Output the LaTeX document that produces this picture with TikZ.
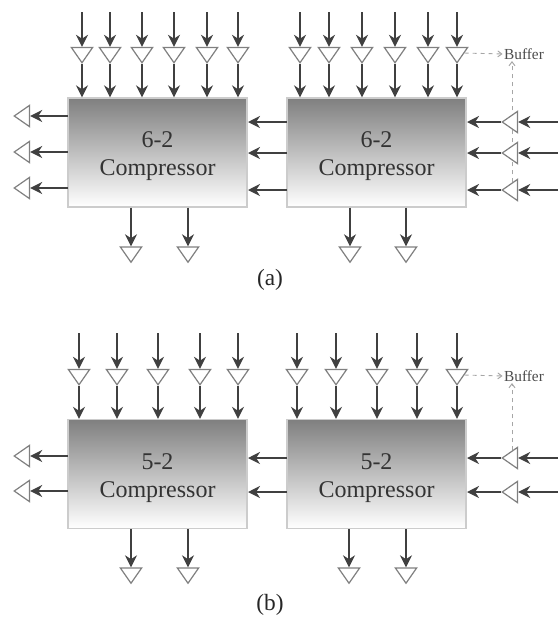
\documentclass[tikz,border=0pt]{standalone}
\usepackage{fontspec}
\setmainfont{Liberation Serif}
\usetikzlibrary{arrows.meta,shapes.geometric,calc,backgrounds}
\definecolor{ink}{HTML}{404040}
\newcommand{\complabel}[1]{\rule{0pt}{18pt}#1\\Compressor}
\tikzset{
  comp/.style={draw=black!20,line width=1.2pt,top color=black!50,bottom color=white,
    minimum width=134pt,minimum height=81.5pt,inner sep=0pt,align=center,
    font=\fontsize{18}{21}\selectfont,text=black!80},
  tri/.style={isosceles triangle,isosceles triangle stretches,draw=black!50,line width=.9pt,fill=white,
    minimum width=16pt,minimum height=11.5pt,inner sep=0pt},
  tridown/.style={tri,shape border rotate=-90},
  trileft/.style={tri,shape border rotate=180},
  sig/.style={draw=ink,line width=1.8pt,-{Stealth[length=9pt,width=9pt]}},
  dashline/.style={draw=black!35,line width=.7pt,dashed,-{Straight Barb[length=3pt,width=4.5pt]}},
  bufl/.style={font=\fontsize{11.5}{13}\selectfont,text=black!70,inner sep=1pt},
  figcap/.style={font=\fontsize{17.5}{20}\selectfont,text=black!85,inner sep=0pt}
}
\begin{document}
\begin{tikzpicture}[x=0.75pt,y=-0.75pt]
\useasboundingbox (0,0) rectangle (558,619);
% ---- (a)
\node[comp] (A1) at (157.5,152.5) {\complabel{6-2}};
\node[comp] (A2) at (376.5,152.5) {\complabel{6-2}};
\foreach \x [count=\i] in {82,110,142,174,207,238,300,329,362,395,428,457}{
  \coordinate (at\i) at (\x,12);
  \node[tridown] (atr\i) at (\x,53) {};
  \draw[sig] (at\i) -- (atr\i.north);
}
\foreach \i in {1,...,6}{\draw[sig] (atr\i.apex) -- (atr\i.apex |- A1.north);}
\foreach \i in {7,...,12}{\draw[sig] (atr\i.apex) -- (atr\i.apex |- A2.north);}
\foreach \y [count=\i] in {116,152,188}{
  \node[trileft] (al\i) at (24,\y) {};
  \coordinate (als\i) at (68,\y);
  \draw[sig] (als\i) -- (al\i.east);
}
\foreach \y [count=\i] in {122,153,190}{
  \coordinate (am\i) at (287,\y);
  \coordinate (ame\i) at (248,\y);
  \draw[sig] (am\i) -- (ame\i);
  \node[trileft] (ar\i) at (512,\y) {};
  \coordinate (ai\i) at (558,\y);
  \coordinate (ao\i) at (467,\y);
  \draw[sig] (ai\i) -- (ar\i.east);
  \draw[sig] (ar\i.apex) -- (ao\i);
}
\foreach \x/\n/\b in {131/1/A1,188/2/A1,350/3/A2,406/4/A2}{
  \node[tridown] (ab\n) at (\x,252.5) {};
  \draw[sig] (ab\n.north |- \b.south) -- (ab\n.north);
}
\node[bufl] (bufa) at (524,54) {Buffer};
\begin{scope}[on background layer]
\draw[dashline] (atr12.east) -- (bufa.west);
\draw[dashline] (ar3.north) -- (bufa.south -| ar3.north);
\end{scope}
\node[figcap] (capa) at (270,280) {(a)};
% ---- (b)
\node[comp] (B1) at (157.5,474) {\complabel{5-2}};
\node[comp] (B2) at (376.5,474) {\complabel{5-2}};
\foreach \x [count=\i] in {79,117,158,200,238,297,336,377,417,457}{
  \coordinate (bt\i) at (\x,333);
  \node[tridown] (btr\i) at (\x,375) {};
  \draw[sig] (bt\i) -- (btr\i.north);
}
\foreach \i in {1,...,5}{\draw[sig] (btr\i.apex) -- (btr\i.apex |- B1.north);}
\foreach \i in {6,...,10}{\draw[sig] (btr\i.apex) -- (btr\i.apex |- B2.north);}
\foreach \y [count=\i] in {456,491}{
  \node[trileft] (bl\i) at (24,\y) {};
  \coordinate (bls\i) at (68,\y);
  \draw[sig] (bls\i) -- (bl\i.east);
}
\foreach \y [count=\i] in {458,492}{
  \coordinate (bm\i) at (287,\y);
  \coordinate (bme\i) at (248,\y);
  \draw[sig] (bm\i) -- (bme\i);
  \node[trileft] (br\i) at (512,\y) {};
  \coordinate (bi\i) at (558,\y);
  \coordinate (bo\i) at (467,\y);
  \draw[sig] (bi\i) -- (br\i.east);
  \draw[sig] (br\i.apex) -- (bo\i);
}
\foreach \x/\n/\b in {131/1/B1,188/2/B1,349/3/B2,406/4/B2}{
  \node[tridown] (bb\n) at (\x,573.5) {};
  \draw[sig] (bb\n.north |- \b.south) -- (bb\n.north);
}
\node[bufl] (bufb) at (524,376) {Buffer};
\begin{scope}[on background layer]
\draw[dashline] (btr10.east) -- (bufb.west);
\draw[dashline] (br1.north) -- (bufb.south -| br1.north);
\end{scope}
\node[figcap] (capb) at (270,605) {(b)};
\end{tikzpicture}
\end{document}
